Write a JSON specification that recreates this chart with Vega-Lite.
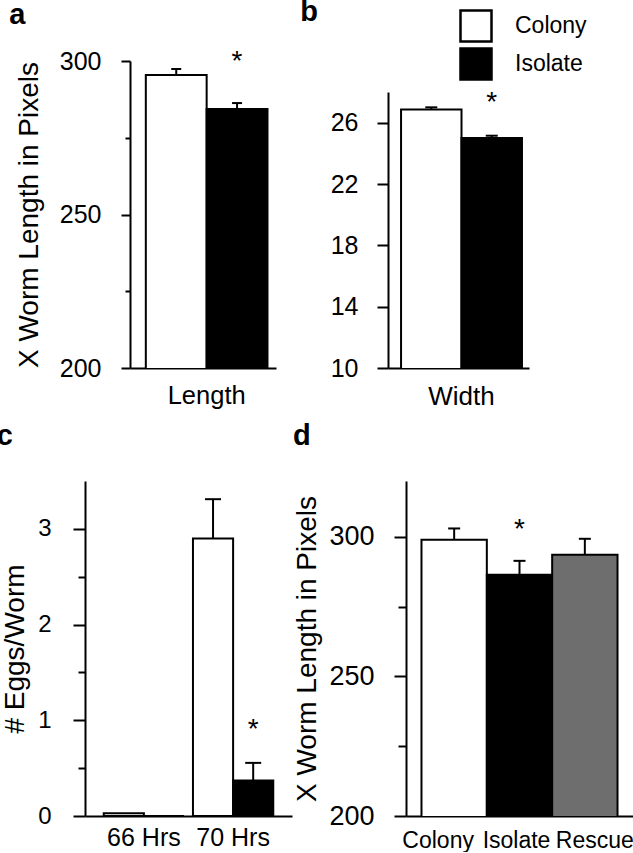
{
  "$schema": "https://vega.github.io/schema/vega-lite/v6.json",
  "padding": {"left": -4, "top": -2, "right": 0, "bottom": 0},
  "background": "white",
  "config": {
    "view": {"stroke": null},
    "font": "Liberation Sans",
    "axis": {"domainColor": "black", "domainWidth": 2, "tickColor": "black", "tickWidth": 2, "labelColor": "black", "titleColor": "black", "grid": false, "labelFont": "Liberation Sans", "titleFont": "Liberation Sans", "titleFontWeight": "normal", "labelFontSize": 25, "titleFontSize": 28},
    "title": {"anchor": "start", "fontSize": 29, "fontWeight": "bold", "color": "black", "frame": "bounds"},
    "legend": {"labelFont": "Liberation Sans", "padding": 0}
  },
  "data": {"values": [
    {"panel": "a", "cat": "Length", "group": "Colony", "value": 295.4, "upper": 297.4, "sig": ""},
    {"panel": "a", "cat": "Length", "group": "Isolate", "value": 284.4, "upper": 286.3, "sig": "*"},
    {"panel": "b", "cat": "Width", "group": "Colony", "value": 26.86, "upper": 27.0, "sig": ""},
    {"panel": "b", "cat": "Width", "group": "Isolate", "value": 25.0, "upper": 25.15, "sig": "*"},
    {"panel": "c", "cat": "66 Hrs", "group": "Colony", "value": 0.03, "upper": 0.03, "sig": ""},
    {"panel": "c", "cat": "66 Hrs", "group": "Isolate", "value": 0, "upper": 0, "sig": ""},
    {"panel": "c", "cat": "70 Hrs", "group": "Colony", "value": 2.9, "upper": 3.31, "sig": ""},
    {"panel": "c", "cat": "70 Hrs", "group": "Isolate", "value": 0.37, "upper": 0.555, "sig": "*"},
    {"panel": "d", "cat": "Colony", "group": "Colony", "value": 299, "upper": 303, "sig": ""},
    {"panel": "d", "cat": "Isolate", "group": "Isolate", "value": 286.4, "upper": 291.4, "sig": "*"},
    {"panel": "d", "cat": "Rescue", "group": "Rescue", "value": 293.6, "upper": 299.3, "sig": ""}
  ]},
  "resolve": {"scale": {"xOffset": "independent"}},
  "vconcat": [
    {
      "resolve": {"scale": {"xOffset": "independent"}},
      "hconcat": [
        {
          "title": {"text": "a", "offset": 18, "dx": -6},
          "width": 191, "height": 307,
          "transform": [{"filter": "datum.panel === 'a'"}],
          "encoding": {
            "x": {"field": "cat", "type": "nominal", "scale": {"range": [45, 191], "paddingInner": 0, "paddingOuter": 0.1, "align": 0.65}, "axis": {"title": null, "labelAngle": 0, "ticks": false, "labelPadding": 15, "labelFontSize": 25.5}},
            "xOffset": {"field": "group", "type": "nominal", "sort": ["Colony", "Isolate"]}
          },
          "layer": [
            {"mark": {"type": "bar", "stroke": "black", "strokeWidth": 2, "clip": true},
             "encoding": {
               "y": {"field": "value", "type": "quantitative", "scale": {"domain": [200, 300], "zero": false},
                     "axis": {"title": "X Worm Length in Pixels", "offset": -45, "values": [200, 225, 250, 275, 300], "labelExpr": "datum.value % 50 === 0 ? datum.label : ''", "tickSize": {"condition": {"test": "datum.value % 50 === 0", "value": 9}, "value": 5}, "labelPadding": 20, "titlePadding": 16}},
               "fill": {"field": "group", "type": "nominal", "scale": {"domain": ["Colony", "Isolate", "Rescue"], "range": ["white", "black", "#6e6e6e"]},
                        "legend": {"orient": "none", "legendX": 374, "legendY": -52, "values": ["Colony", "Isolate"], "title": null, "symbolType": "square", "symbolSize": 961, "symbolStrokeColor": "black", "symbolStrokeWidth": 2.5, "labelFontSize": 23, "labelColor": "black", "rowPadding": -5, "labelOffset": 22}}
             }},
            {"mark": {"type": "rule", "strokeWidth": 2, "color": "black"}, "encoding": {"y": {"field": "value", "type": "quantitative"}, "y2": {"field": "upper"}}},
            {"mark": {"type": "tick", "thickness": 2, "size": 10, "color": "black", "opacity": 1}, "encoding": {"y": {"field": "upper", "type": "quantitative"}}},
            {"mark": {"type": "text", "fontSize": 28, "dy": -41, "baseline": "middle", "color": "black"}, "transform": [{"filter": "datum.sig !== ''"}], "encoding": {"y": {"field": "upper", "type": "quantitative"}, "text": {"field": "sig"}}}
          ]
        },
        {
          "title": {"text": "b", "offset": 34, "dx": -30},
          "width": 141, "height": 307,
          "transform": [{"filter": "datum.panel === 'b'"}],
          "encoding": {
            "x": {"field": "cat", "type": "nominal", "scale": {"paddingInner": 0, "paddingOuter": 0.083, "align": 0.65}, "axis": {"title": null, "labelAngle": 0, "ticks": false, "labelPadding": 15, "labelFontSize": 26}},
            "xOffset": {"field": "group", "type": "nominal", "sort": ["Colony", "Isolate"]}
          },
          "layer": [
            {"mark": {"type": "bar", "stroke": "black", "strokeWidth": 2, "clip": true},
             "encoding": {
               "y": {"field": "value", "type": "quantitative", "scale": {"domain": [10, 28], "zero": false, "range": [307, 31]},
                     "axis": {"title": null, "values": [10, 12, 14, 16, 18, 20, 22, 24, 26, 28], "labelExpr": "(datum.value - 10) % 4 === 0 ? datum.label : ''", "tickSize": {"condition": {"test": "(datum.value - 10) % 4 === 0", "value": 11}, "value": 9}, "labelPadding": 19}},
               "fill": {"field": "group", "type": "nominal"}
             }},
            {"mark": {"type": "rule", "strokeWidth": 2, "color": "black"}, "encoding": {"y": {"field": "value", "type": "quantitative"}, "y2": {"field": "upper"}}},
            {"mark": {"type": "tick", "thickness": 2, "size": 12, "color": "black", "opacity": 1}, "encoding": {"y": {"field": "upper", "type": "quantitative"}}},
            {"mark": {"type": "text", "fontSize": 28, "dy": -33, "baseline": "middle", "color": "black"}, "transform": [{"filter": "datum.sig !== ''"}], "encoding": {"y": {"field": "upper", "type": "quantitative"}, "text": {"field": "sig"}}}
          ]
        }
      ],
      "spacing": 24
    },
    {
      "resolve": {"scale": {"xOffset": "independent"}},
      "hconcat": [
        {
          "title": {"text": "c", "offset": 30, "dx": -5},
          "width": 207, "height": 335,
          "transform": [{"filter": "datum.panel === 'c'"}],
          "encoding": {
            "x": {"field": "cat", "type": "nominal", "scale": {"paddingInner": 0.1, "paddingOuter": 0.21}, "axis": {"title": null, "labelAngle": 0, "ticks": false, "labelPadding": 9, "labelFontSize": 25}},
            "xOffset": {"field": "group", "type": "nominal", "sort": ["Colony", "Isolate"]}
          },
          "layer": [
            {"mark": {"type": "bar", "stroke": "black", "strokeWidth": 2, "clip": true},
             "encoding": {
               "y": {"field": "value", "type": "quantitative", "scale": {"domain": [0, 3.5]},
                     "axis": {"title": "# Eggs/Worm", "values": [0, 0.5, 1, 1.5, 2, 2.5, 3], "labelExpr": "datum.value % 1 === 0 ? format(datum.value, 'd') : ''", "labelFontSize": 24, "tickSize": {"condition": {"test": "datum.value % 1 === 0", "value": 12}, "value": 7}, "labelPadding": 22, "titlePadding": 8}},
               "fill": {"field": "group", "type": "nominal"}
             }},
            {"mark": {"type": "rule", "strokeWidth": 2, "color": "black"}, "encoding": {"y": {"field": "value", "type": "quantitative"}, "y2": {"field": "upper"}}},
            {"mark": {"type": "tick", "thickness": 2, "size": 16, "color": "black", "opacity": 1}, "transform": [{"filter": "datum.upper > datum.value"}], "encoding": {"y": {"field": "upper", "type": "quantitative"}}},
            {"mark": {"type": "text", "fontSize": 28, "dy": -33, "baseline": "middle", "color": "black"}, "transform": [{"filter": "datum.sig !== ''"}], "encoding": {"y": {"field": "upper", "type": "quantitative"}, "text": {"field": "sig"}}}
          ]
        },
        {
          "title": {"text": "d", "offset": 30, "dx": -1},
          "width": 227, "height": 335,
          "transform": [{"filter": "datum.panel === 'd'"}],
          "encoding": {
            "x": {"field": "cat", "type": "nominal", "sort": ["Colony", "Isolate", "Rescue"], "scale": {"paddingInner": 0, "paddingOuter": 0.237}, "axis": {"title": null, "labelAngle": 0, "ticks": false, "labelPadding": 13, "labelFontSize": 23, "labelOffset": {"condition": [{"test": "datum.value === 'Colony'", "value": -16}, {"test": "datum.value === 'Rescue'", "value": 10}], "value": -3}}}
          },
          "layer": [
            {"mark": {"type": "bar", "stroke": "black", "strokeWidth": 2, "clip": true},
             "encoding": {
               "y": {"field": "value", "type": "quantitative", "scale": {"domain": [200, 320], "zero": false},
                     "axis": {"title": "X Worm Length in Pixels", "values": [200, 225, 250, 275, 300], "labelExpr": "datum.value % 50 === 0 ? datum.label : ''", "labelFontSize": 27, "tickSize": {"condition": {"test": "datum.value % 50 === 0", "value": 12}, "value": 8}, "labelPadding": 20, "titlePadding": 7}},
               "fill": {"field": "group", "type": "nominal"}
             }},
            {"mark": {"type": "rule", "strokeWidth": 2, "color": "black"}, "encoding": {"y": {"field": "value", "type": "quantitative"}, "y2": {"field": "upper"}}},
            {"mark": {"type": "tick", "thickness": 2, "size": 12, "color": "black", "opacity": 1}, "encoding": {"y": {"field": "upper", "type": "quantitative"}}},
            {"mark": {"type": "text", "fontSize": 28, "dy": -31, "baseline": "middle", "color": "black"}, "transform": [{"filter": "datum.sig !== ''"}], "encoding": {"y": {"field": "upper", "type": "quantitative"}, "text": {"field": "sig"}}}
          ]
        }
      ],
      "spacing": 0
    }
  ],
  "spacing": 13
}
